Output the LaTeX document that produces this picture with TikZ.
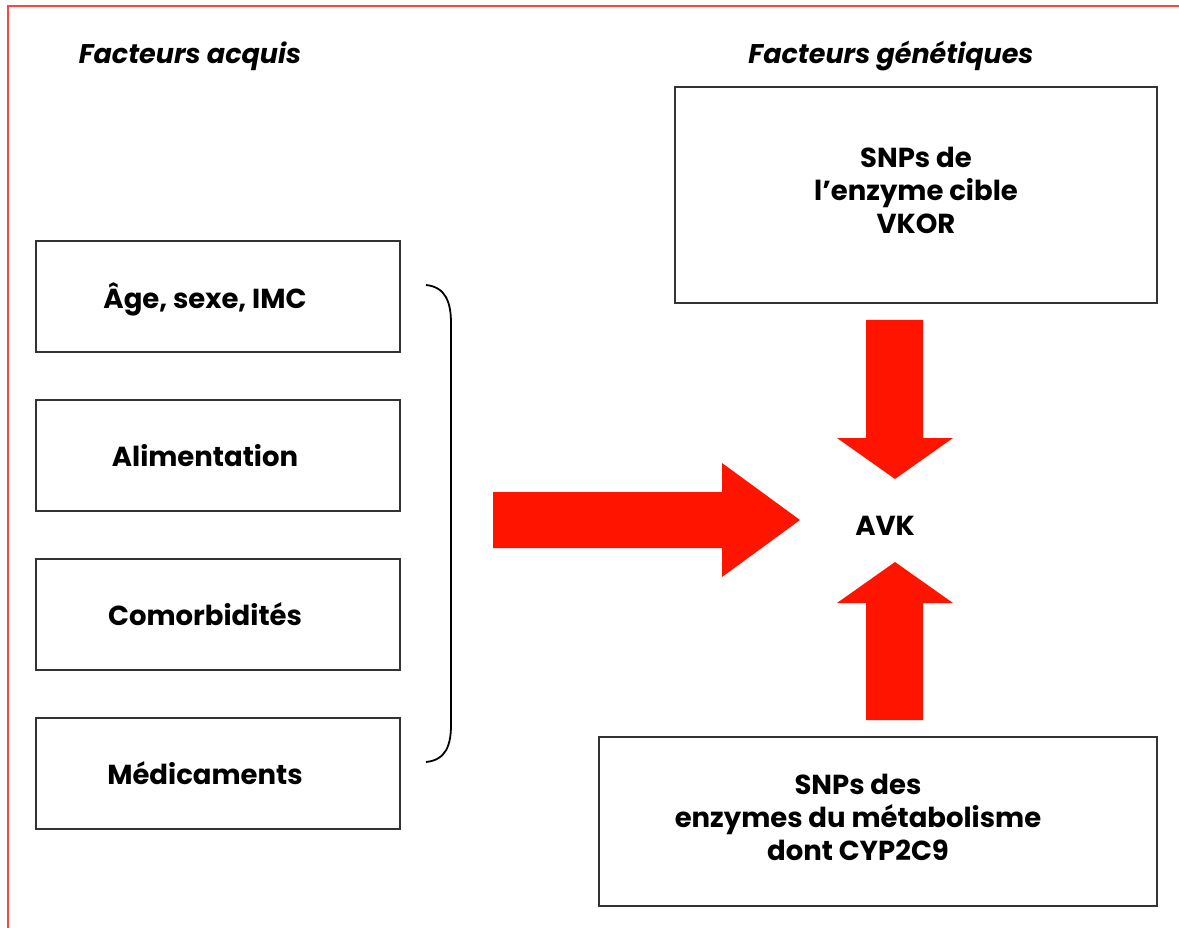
\documentclass[tikz,border=0pt]{standalone}
\usepackage{fontspec}
\setmainfont{Poppins}
\usetikzlibrary{positioning}

\definecolor{avkred}{RGB}{255,20,0}
\definecolor{framered}{RGB}{250,70,60}

\begin{document}
\begin{tikzpicture}[x=1pt,y=-1pt,node distance=46pt,
        box/.style={draw=black!80,line width=2pt,inner sep=0pt},
        lbox/.style={box,minimum width=364pt,minimum height=111pt},
        txt/.style={font=\bfseries\fontsize{27.5}{33}\selectfont,align=center,inner sep=0pt},
        title/.style={font=\bfseries\itshape\fontsize{27}{33}\selectfont,inner sep=0pt},
        fat/.style={fill=avkred}]

  \useasboundingbox (0,0) rectangle (1179,928);
  \draw[framered,line width=2pt] (1179,6) -- (8,6) -- (8,928);

  \node[title] (acq) at (190,56) {Facteurs acquis};
  \node[title] (gen) at (891,56) {Facteurs génétiques};

  % facteurs acquis
  \node[lbox] (age) at (218,296.5) {};
  \node[lbox] (alim) [below=of age] {};
  \node[lbox] (comor) [below=of alim] {};
  \node[lbox] (medic) [below=of comor] {};
  \node[txt] at ([xshift=-13pt,yshift=-3pt]age.center) {Âge, sexe, IMC};
  \node[txt] at ([xshift=-13pt]alim.center) {Alimentation};
  \node[txt] at ([xshift=-13pt]comor.center) {Comorbidités};
  \node[txt] at ([xshift=-13pt]medic.center) {Médicaments};

  \draw[line width=1.8pt] (426,285) .. controls (446,287) and (451,303) .. (451,323)
        -- (451,725) .. controls (451,745) and (446,760) .. (426,762);

  % facteurs genetiques
  \node[box,minimum width=482pt,minimum height=216pt] (vkor) at (916,195) {};
  \node[txt] at ([yshift=5pt]vkor.center) {SNPs de\\l’enzyme cible\\VKOR};
  \node[box,minimum width=558pt,minimum height=169pt] (cyp) at (878,821.5) {};
  \node[txt] at ([xshift=-20pt,yshift=4pt]cyp.center) {SNPs des\\enzymes du métabolisme\\dont CYP2C9};

  \node[txt] (avk) at (885,526) {AVK};

  % grosses fleches
  \fill[fat] (493,492) -- (722,492) -- (722,463) -- (800,520) -- (722,577)
        -- (722,548) -- (493,548) -- cycle;
  \fill[fat] (866,320) -- (923,320) -- (923,438) -- (953,438) -- (895,479)
        -- (837,438) -- (866,438) -- cycle;
  \fill[fat] (866,720) -- (923,720) -- (923,603) -- (953,603) -- (895,562)
        -- (837,603) -- (866,603) -- cycle;

\end{tikzpicture}
\end{document}
